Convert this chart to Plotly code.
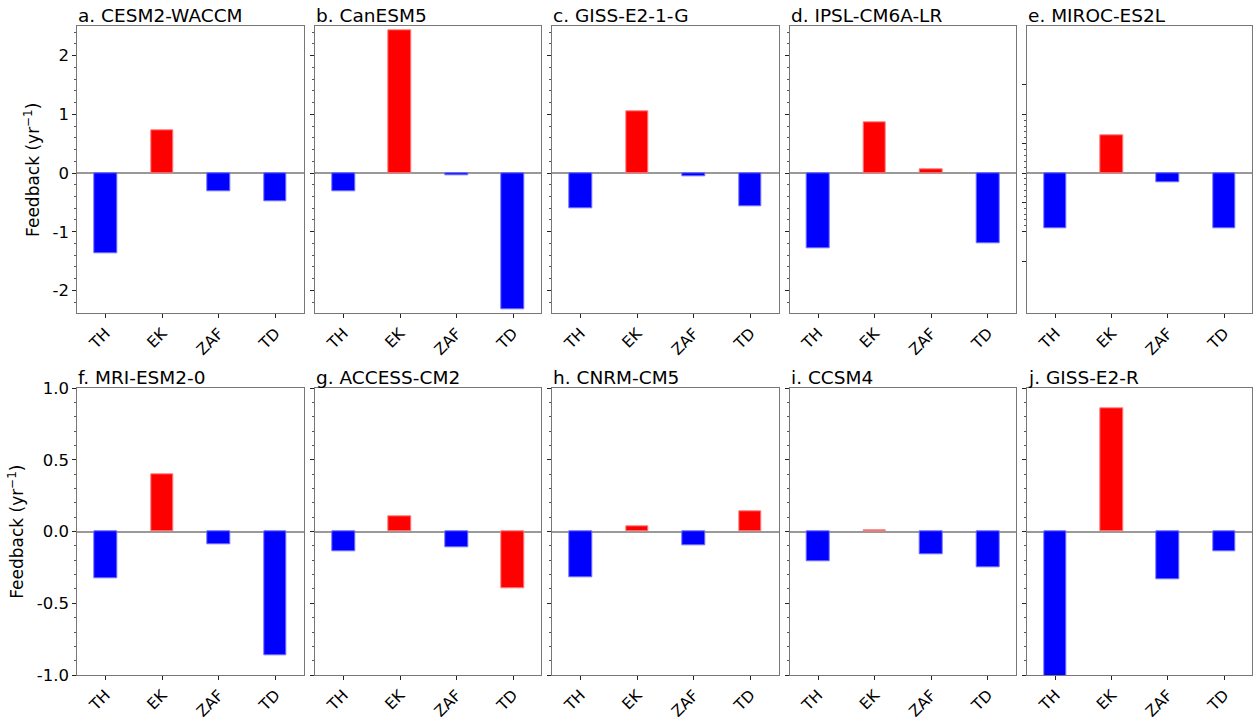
import plotly.graph_objects as go

categories = ["TH", "EK", "ZAF", "TD"]

models = ["a. CESM2-WACCM", "b. CanESM5", "c. GISS-E2-1-G", "d. IPSL-CM6A-LR", "e. MIROC-ES2L",
          "f. MRI-ESM2-0", "g. ACCESS-CM2", "h. CNRM-CM5", "i. CCSM4", "j. GISS-E2-R"]

cesm2_waccm = [-1.375, 0.733, -0.307, -0.483]
canesm5 = [-0.318, 2.43, -0.04, -2.32]
giss_e2_1_g = [-0.60, 1.05, -0.06, -0.57]
ipsl_cm6a_lr = [-1.28, 0.86, 0.07, -1.19]
miroc_es2l = [-0.943, 0.642, -0.165, -0.94]
mri_esm2_0 = [-0.328, 0.40, -0.088, -0.86]
access_cm2 = [-0.14, 0.105, -0.11, -0.393]
cnrm_cm5 = [-0.316, 0.037, -0.093, 0.142]
ccsm4 = [-0.205, 0.009, -0.158, -0.251]
giss_e2_r = [-1.02, 0.863, -0.33, -0.14]

values = [cesm2_waccm, canesm5, giss_e2_1_g, ipsl_cm6a_lr, miroc_es2l,
          mri_esm2_0, access_cm2, cnrm_cm5, ccsm4, giss_e2_r]

top_ticks = [-2, -1, 0, 1, 2]
top_labels = ["-2", "-1", "0", "1", "2"]
bottom_ticks = [-1.0, -0.5, 0.0, 0.5, 1.0]
bottom_labels = ["-1.0", "-0.5", "0.0", "0.5", "1.0"]
e_ticks = [-1.5, -1.0, -0.5, 0.0, 0.5, 1.0, 1.5]

B, R = "#0000ff", "#ff0000"
colors = [
    [B, R, B, B], [B, R, B, B], [B, R, B, B], [B, R, R, B], [B, R, B, B],
    [B, R, B, B], [B, R, B, R], [B, R, B, R], [B, R, B, B], [B, R, B, B],
]
edge = {B: "#6f6fff", R: "#ff7f7f"}

W, H = 1253, 719
xpix = [(77.3, 303.7), (315.3, 541.3), (552.3, 778.7), (789.7, 1016.3), (1027.3, 1252.3)]
ypix = [(26.3, 313.3), (388.3, 675.0)]

fig = go.Figure()
font = "DejaVu Sans, Arial, sans-serif"

for i, (name, vals, cols) in enumerate(zip(models, values, colors)):
    r, c = divmod(i, 5)
    n = i + 1
    xa = "x" if n == 1 else f"x{n}"
    ya = "y" if n == 1 else f"y{n}"
    fig.add_trace(go.Bar(
        x=categories, y=vals, width=0.4,
        marker=dict(color=cols, line=dict(color=[edge[k] for k in cols], width=1)),
        xaxis=xa, yaxis=ya, showlegend=False, hoverinfo="skip",
    ))
    x0, x1 = xpix[c]
    y0, y1 = ypix[r]
    xdom = [x0 / W, x1 / W]
    ydom = [1 - y1 / H, 1 - y0 / H]
    xkey = "xaxis" if n == 1 else f"xaxis{n}"
    ykey = "yaxis" if n == 1 else f"yaxis{n}"
    fig.layout[xkey] = dict(
        domain=xdom, anchor=ya, range=[-0.5, 3.5], type="category", automargin=False,
        showline=True, linecolor="#777777", linewidth=1, mirror=True,
        ticks="outside", ticklen=4, tickcolor="#222222", tickangle=-45,
        tickfont=dict(size=15.5, color="black", family=font), showgrid=False,
        fixedrange=True,
    )
    yd = dict(
        domain=ydom, anchor=xa, automargin=False,
        showline=True, linecolor="#777777", linewidth=1, mirror=True,
        ticks="outside", ticklen=4, tickcolor="#222222",
        tickfont=dict(size=16.5, color="black", family=font), showgrid=False,
        zeroline=True, zerolinecolor="#999999", zerolinewidth=1.5,
    )
    if r == 0:
        yd.update(range=[-2.39, 2.5])
        if c == 4:
            yd.update(tickmode="array", tickvals=e_ticks,
                      minor=dict(tickmode="array",
                                 tickvals=[k / 10 for k in range(-10, 11)],
                                 ticks="outside", ticklen=2, tickcolor="#555555"))
        else:
            yd.update(tickmode="array", tickvals=top_ticks, ticktext=top_labels,
                      minor=dict(dtick=0.2, tick0=0, ticks="outside", ticklen=2, tickcolor="#555555"))
    else:
        yd.update(range=[-1.0, 1.0], tickmode="array", tickvals=bottom_ticks, ticktext=bottom_labels,
                  minor=dict(dtick=0.1, tick0=0, ticks="outside", ticklen=2, tickcolor="#555555"))
    if c == 0:
        yd.update(showticklabels=True,
                  title=dict(text="Feedback (yr<sup>\u22121</sup>)", standoff=8,
                             font=dict(size=17, color="black", family=font)))
    else:
        yd.update(showticklabels=False)
    fig.layout[ykey] = yd
    fig.add_annotation(
        text=name, x=xdom[0], y=ydom[1], xref="paper", yref="paper",
        xanchor="left", yanchor="bottom", yshift=-2, xshift=-1, showarrow=False,
        font=dict(size=18.5, color="black", family=font),
    )

fig.update_layout(
    width=W, height=H, margin=dict(l=0, r=0, t=0, b=0),
    paper_bgcolor="white", plot_bgcolor="white", bargap=0,
)

fig.write_html("out.html")
